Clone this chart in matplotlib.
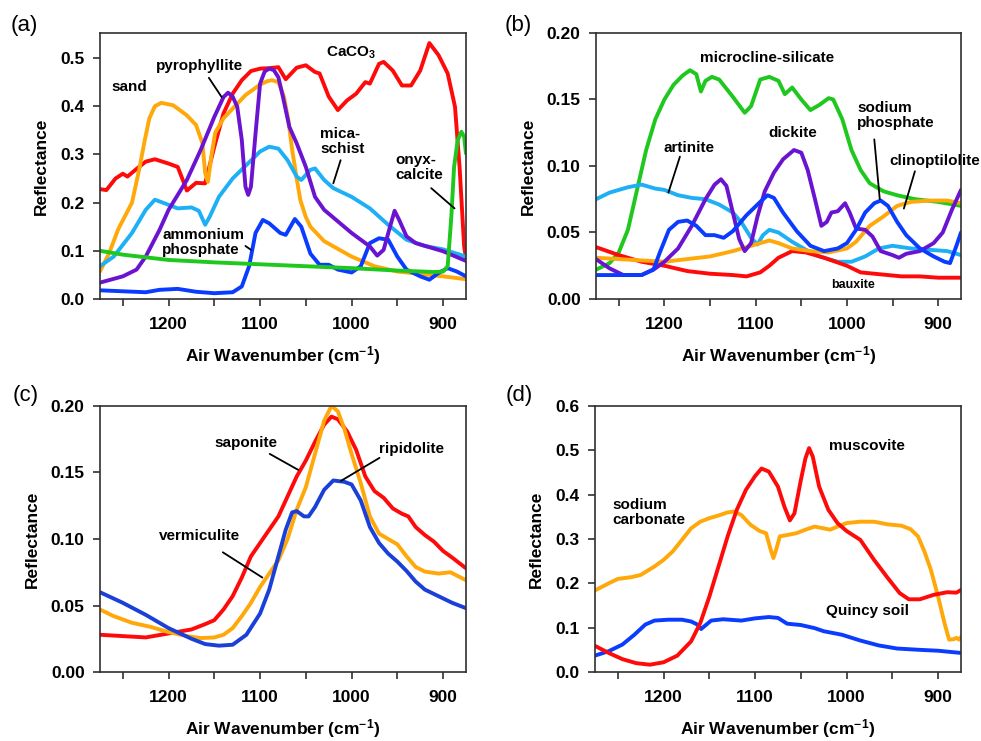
import matplotlib
matplotlib.use("Agg")
import matplotlib.pyplot as plt
import numpy as np

plt.rcParams['font.family'] = ['Liberation Sans', 'DejaVu Sans']
plt.rcParams['font.weight'] = 'bold'
plt.rcParams['mathtext.fontset'] = 'custom'
plt.rcParams['mathtext.rm'] = 'Liberation Sans:bold'
plt.rcParams['mathtext.bf'] = 'Liberation Sans:bold'
plt.rcParams['mathtext.default'] = 'bf'

RED = '#ff0a0a'
ORANGE = '#ffa80a'
PURPLE = '#6a14d2'
LIGHTBLUE = '#1eb0f5'
BLUE = '#0a3cff'
GREEN = '#1ec81e'
DARKBLUE = '#1a40d8'

# ---------------- panel (a) ----------------
caco3_wn = [1275, 1268, 1258, 1250, 1245, 1235, 1225, 1215, 1200, 1190, 1180, 1170, 1160, 1150,
            1140, 1130, 1120, 1110, 1100, 1090, 1080, 1072, 1060, 1050, 1040, 1035, 1025, 1015,
            1005, 995, 985, 980, 970, 965, 955, 945, 935, 925, 915, 905, 895, 887, 882, 877, 875]
caco3_r = [0.228, 0.226, 0.25, 0.26, 0.254, 0.27, 0.285, 0.29, 0.281, 0.274, 0.225, 0.241,
           0.24, 0.316, 0.385, 0.426, 0.454, 0.473, 0.478, 0.479, 0.481, 0.456, 0.48, 0.485,
           0.471, 0.468, 0.42, 0.392, 0.412, 0.426, 0.45, 0.447, 0.488, 0.492, 0.474, 0.443,
           0.443, 0.474, 0.531, 0.506, 0.468, 0.399, 0.274, 0.109, 0.085]

sand_wn = [1275, 1265, 1255, 1240, 1232, 1226, 1221, 1215, 1208, 1195, 1180, 1170, 1163, 1160,
           1157, 1153, 1149, 1140, 1130, 1116, 1100, 1092, 1087, 1080, 1074, 1069, 1065, 1060,
           1056, 1050, 1045, 1030, 1000, 975, 950, 900, 875]
sand_r = [0.057, 0.095, 0.145, 0.2, 0.27, 0.33, 0.375, 0.4, 0.407, 0.402, 0.381, 0.361, 0.323,
          0.261, 0.243, 0.3, 0.345, 0.375, 0.395, 0.423, 0.445, 0.452, 0.454, 0.45, 0.42, 0.37,
          0.31, 0.25, 0.205, 0.17, 0.15, 0.12, 0.088, 0.068, 0.057, 0.047, 0.041]

pyro_wn = [1275, 1250, 1235, 1225, 1210, 1200, 1180, 1165, 1150, 1140, 1135, 1130, 1125, 1120,
           1116, 1113, 1110, 1105, 1100, 1095, 1090, 1085, 1080, 1075, 1068, 1060, 1050, 1040,
           1030, 1000, 980, 972, 965, 958, 953, 948, 940, 930, 900, 875]
pyro_r = [0.034, 0.047, 0.061, 0.088, 0.143, 0.185, 0.247, 0.309, 0.378, 0.419, 0.428, 0.42,
          0.399, 0.33, 0.233, 0.216, 0.233, 0.343, 0.447, 0.472, 0.478, 0.475, 0.46, 0.419,
          0.357, 0.323, 0.274, 0.212, 0.185, 0.137, 0.109, 0.09, 0.102, 0.15, 0.183, 0.164,
          0.13, 0.116, 0.099, 0.079]

mica_wn = [1275, 1260, 1240, 1225, 1215, 1205, 1190, 1175, 1167, 1160, 1155, 1145, 1130, 1115,
           1100, 1090, 1080, 1070, 1060, 1055, 1045, 1040, 1030, 1020, 1000, 980, 960, 940,
           920, 900, 875]
mica_r = [0.068, 0.088, 0.137, 0.185, 0.206, 0.199, 0.188, 0.19, 0.183, 0.154, 0.171, 0.212,
          0.25, 0.278, 0.306, 0.316, 0.312, 0.288, 0.254, 0.247, 0.268, 0.271, 0.247, 0.23,
          0.212, 0.188, 0.154, 0.123, 0.11, 0.103, 0.088]

ammph_wn = [1275, 1250, 1225, 1210, 1190, 1170, 1150, 1130, 1120, 1112, 1105, 1097, 1090, 1078,
            1072, 1062, 1055, 1045, 1035, 1025, 1015, 1000, 990, 980, 970, 960, 950, 940, 925,
            915, 905, 895, 885, 875]
ammph_r = [0.018, 0.016, 0.014, 0.019, 0.021, 0.015, 0.012, 0.014, 0.026, 0.068, 0.137, 0.164,
           0.157, 0.137, 0.133, 0.166, 0.15, 0.094, 0.071, 0.071, 0.061, 0.055, 0.068, 0.116,
           0.126, 0.123, 0.088, 0.061, 0.047, 0.04, 0.054, 0.064, 0.057, 0.047]

onyx_wn = [1275, 1250, 1200, 1150, 1100, 1050, 1000, 950, 910, 900, 895, 891, 888, 884, 880,
           877, 875]
onyx_r = [0.1, 0.092, 0.081, 0.076, 0.072, 0.068, 0.064, 0.059, 0.056, 0.057, 0.068, 0.171,
          0.274, 0.33, 0.347, 0.337, 0.302]

# ---------------- panel (b) ----------------
micro_wn = [1275, 1260, 1250, 1240, 1230, 1220, 1210, 1200, 1190, 1180, 1172, 1165, 1160, 1155,
            1148, 1140, 1125, 1112, 1105, 1095, 1085, 1075, 1068, 1060, 1050, 1040, 1030, 1020,
            1015, 1005, 995, 985, 975, 960, 945, 925, 900, 875]
micro_r = [0.022, 0.027, 0.035, 0.052, 0.082, 0.112, 0.135, 0.15, 0.161, 0.168, 0.172, 0.169,
           0.156, 0.164, 0.167, 0.165, 0.152, 0.14, 0.145, 0.165, 0.167, 0.164, 0.154, 0.159,
           0.15, 0.142, 0.146, 0.151, 0.15, 0.135, 0.112, 0.097, 0.087, 0.081, 0.078, 0.075,
           0.073, 0.07]

artin_wn = [1275, 1260, 1240, 1225, 1210, 1200, 1185, 1170, 1155, 1140, 1125, 1115, 1105, 1098,
            1092, 1085, 1075, 1060, 1045, 1030, 1010, 995, 980, 965, 950, 930, 910, 890, 875]
artin_r = [0.075, 0.08, 0.084, 0.086, 0.083, 0.082, 0.078, 0.076, 0.075, 0.071, 0.065, 0.057,
           0.046, 0.041, 0.048, 0.052, 0.05, 0.043, 0.037, 0.032, 0.028, 0.028, 0.032, 0.038,
           0.04, 0.038, 0.037, 0.036, 0.033]

dick_wn = [1275, 1260, 1245, 1225, 1210, 1200, 1185, 1170, 1155, 1145, 1138, 1132, 1125, 1118,
           1112, 1105, 1098, 1090, 1080, 1070, 1058, 1050, 1043, 1035, 1028, 1022, 1017, 1010,
           1002, 997, 990, 980, 972, 963, 950, 943, 935, 920, 905, 895, 885, 875]
dick_r = [0.03, 0.023, 0.018, 0.018, 0.023, 0.028, 0.038, 0.055, 0.075, 0.086, 0.09, 0.085,
          0.065, 0.045, 0.036, 0.042, 0.062, 0.081, 0.095, 0.105, 0.112, 0.11, 0.097, 0.075,
          0.055, 0.058, 0.065, 0.066, 0.072, 0.065, 0.053, 0.052, 0.047, 0.036, 0.033, 0.031,
          0.034, 0.036, 0.042, 0.05, 0.067, 0.082]

sodph_wn = [1275, 1250, 1225, 1212, 1205, 1195, 1185, 1175, 1165, 1155, 1145, 1135, 1125, 1110,
            1095, 1087, 1080, 1070, 1055, 1040, 1025, 1010, 1000, 990, 980, 970, 963, 955, 945,
            935, 920, 905, 893, 887, 880, 875]
sodph_r = [0.018, 0.018, 0.018, 0.022, 0.035, 0.052, 0.058, 0.059, 0.055, 0.048, 0.048, 0.046,
           0.051, 0.063, 0.073, 0.078, 0.076, 0.065, 0.051, 0.04, 0.036, 0.038, 0.042, 0.052,
           0.065, 0.072, 0.074, 0.07, 0.058, 0.048, 0.038, 0.032, 0.028, 0.027, 0.04, 0.05]

clino_wn = [1275, 1250, 1225, 1200, 1175, 1150, 1125, 1100, 1085, 1075, 1060, 1040, 1020, 1000,
            990, 975, 960, 945, 930, 910, 890, 875]
clino_r = [0.031, 0.03, 0.029, 0.028, 0.03, 0.032, 0.036, 0.041, 0.044, 0.042, 0.038, 0.036,
           0.035, 0.038, 0.043, 0.055, 0.062, 0.07, 0.073, 0.074, 0.074, 0.072]

baux_wn = [1275, 1250, 1225, 1200, 1175, 1150, 1125, 1110, 1095, 1085, 1075, 1060, 1045, 1025,
           1000, 985, 970, 955, 940, 920, 900, 885, 875]
baux_r = [0.039, 0.033, 0.028, 0.025, 0.021, 0.019, 0.018, 0.017, 0.02, 0.025, 0.031, 0.036,
          0.035, 0.031, 0.025, 0.02, 0.019, 0.018, 0.017, 0.017, 0.016, 0.016, 0.016]

# ---------------- panel (c) ----------------
sapon_wn = [1275, 1250, 1225, 1200, 1175, 1160, 1150, 1140, 1130, 1120, 1110, 1100, 1090, 1080,
            1070, 1060, 1050, 1040, 1030, 1022, 1015, 1005, 995, 985, 975, 965, 955, 945, 938,
            930, 920, 910, 900, 890, 875]
sapon_r = [0.028, 0.027, 0.026, 0.029, 0.032, 0.036, 0.039, 0.047, 0.057, 0.071, 0.087, 0.097,
           0.107, 0.117, 0.132, 0.147, 0.159, 0.173, 0.186, 0.192, 0.19, 0.181, 0.167, 0.147,
           0.136, 0.131, 0.123, 0.119, 0.117, 0.109, 0.103, 0.098, 0.091, 0.086, 0.078]

vermi_wn = [1275, 1260, 1240, 1220, 1200, 1180, 1165, 1150, 1140, 1130, 1120, 1110, 1100, 1090,
            1080, 1070, 1060, 1050, 1040, 1030, 1022, 1015, 1008, 1000, 990, 980, 970, 960,
            950, 940, 930, 920, 905, 892, 875]
vermi_r = [0.047, 0.042, 0.037, 0.034, 0.03, 0.027, 0.0255, 0.026, 0.028, 0.033, 0.042, 0.052,
           0.064, 0.074, 0.084, 0.1, 0.122, 0.139, 0.164, 0.189, 0.2, 0.196, 0.183, 0.164,
           0.142, 0.117, 0.104, 0.1, 0.096, 0.087, 0.079, 0.0755, 0.074, 0.075, 0.069]

ripid_wn = [1275, 1250, 1225, 1200, 1175, 1160, 1145, 1130, 1115, 1100, 1090, 1080, 1072, 1065,
            1060, 1052, 1047, 1040, 1030, 1020, 1008, 1000, 990, 980, 970, 960, 950, 940, 930,
            920, 905, 890, 875]
ripid_r = [0.06, 0.052, 0.043, 0.033, 0.025, 0.021, 0.0198, 0.0205, 0.028, 0.044, 0.062, 0.087,
           0.107, 0.12, 0.121, 0.117, 0.117, 0.124, 0.137, 0.144, 0.143, 0.141, 0.129, 0.109,
           0.097, 0.089, 0.083, 0.076, 0.068, 0.062, 0.057, 0.052, 0.048]

# ---------------- panel (d) ----------------
musc_wn = [1275, 1260, 1245, 1230, 1215, 1200, 1185, 1170, 1160, 1150, 1140, 1130, 1120, 1110,
           1100, 1093, 1085, 1075, 1068, 1062, 1057, 1050, 1045, 1041, 1037, 1030, 1020, 1010,
           1000, 985, 970, 955, 942, 932, 920, 905, 890, 880, 875]
musc_r = [0.059, 0.043, 0.029, 0.02, 0.0165, 0.022, 0.037, 0.069, 0.11, 0.17, 0.238, 0.306,
          0.366, 0.411, 0.442, 0.459, 0.452, 0.418, 0.373, 0.342, 0.358, 0.433, 0.482, 0.505,
          0.486, 0.418, 0.366, 0.336, 0.318, 0.298, 0.253, 0.212, 0.178, 0.164, 0.164, 0.174,
          0.18, 0.179, 0.185]

sodcarb_wn = [1275, 1260, 1250, 1235, 1225, 1210, 1200, 1190, 1180, 1170, 1160, 1150, 1140, 1130,
              1123, 1115, 1105, 1095, 1088, 1083, 1080, 1077, 1073, 1065, 1055, 1045, 1035,
              1025, 1018, 1010, 1000, 985, 970, 955, 940, 930, 922, 915, 908, 900, 893, 888,
              883, 880, 877, 875]
sodcarb_r = [0.184, 0.2, 0.21, 0.214, 0.219, 0.238, 0.253, 0.272, 0.298, 0.324, 0.339, 0.347,
             0.353, 0.36, 0.362, 0.354, 0.332, 0.318, 0.313, 0.276, 0.257, 0.276, 0.306, 0.309,
             0.313, 0.321, 0.328, 0.324, 0.321, 0.328, 0.336, 0.339, 0.339, 0.333, 0.33, 0.322,
             0.306, 0.272, 0.231, 0.17, 0.11, 0.073, 0.074, 0.077, 0.073, 0.079]

quincy_wn = [1275, 1260, 1245, 1232, 1220, 1210, 1195, 1180, 1170, 1163, 1159, 1155, 1148, 1135,
             1115, 1100, 1085, 1075, 1065, 1050, 1035, 1025, 1005, 985, 965, 945, 920, 900, 875]
quincy_r = [0.037, 0.047, 0.062, 0.084, 0.107, 0.116, 0.118, 0.118, 0.114, 0.107, 0.097, 0.104,
            0.116, 0.119, 0.116, 0.121, 0.124, 0.122, 0.109, 0.106, 0.099, 0.092, 0.084, 0.071,
            0.06, 0.053, 0.05, 0.048, 0.043]

LW = 2.8
ANN = 11
LINE_KW = dict(lw=LW, solid_joinstyle='round', solid_capstyle='round')


def style_axes(ax, ymax, ystep):
    ax.set_xlim(1275, 875)
    ax.set_ylim(0, ymax)
    ax.set_xticks([1200, 1100, 1000, 900])
    ax.set_xticks([1250, 1150, 1050, 950], minor=True)
    ax.set_yticks(np.arange(0, ymax + 1e-9, ystep))
    ax.tick_params(axis='both', which='both', direction='out', length=5, width=1.2,
                   color='#303030', labelsize=12.5)
    ax.tick_params(axis='x', pad=8)
    ax.tick_params(axis='y', pad=6)
    for sp in ax.spines.values():
        sp.set_color('#303030')
        sp.set_linewidth(1.2)
    ax.set_xlabel(r'Air Wavenumber (cm$^{-1}$)', fontsize=12.5, fontweight='bold', labelpad=9)
    ax.set_ylabel('Reflectance', fontsize=12.5, fontweight='bold', labelpad=8)


def leader(ax, p0, p1):
    ax.annotate('', xy=p1, xytext=p0,
                arrowprops=dict(arrowstyle='-', color='black', lw=1.3, shrinkA=0, shrinkB=0))


fig = plt.figure(figsize=(9.81, 7.41), dpi=100)
ax_a = fig.add_axes([0.1019, 0.5965, 0.3731, 0.359])
ax_b = fig.add_axes([0.6075, 0.5965, 0.3721, 0.359])
ax_c = fig.add_axes([0.1019, 0.0931, 0.3731, 0.359])
ax_d = fig.add_axes([0.6065, 0.0931, 0.3731, 0.359])

# (a)
ax = ax_a
ax.plot(caco3_wn, caco3_r, color=RED, **LINE_KW)
ax.plot(sand_wn, sand_r, color=ORANGE, **LINE_KW)
ax.plot(mica_wn, mica_r, color=LIGHTBLUE, **LINE_KW)
ax.plot(ammph_wn, ammph_r, color=BLUE, **LINE_KW)
ax.plot(pyro_wn, pyro_r, color=PURPLE, **LINE_KW)
ax.plot(onyx_wn, onyx_r, color=GREEN, **LINE_KW)
style_axes(ax, 0.552, 0.1)
ax.set_yticklabels(['0.0', '0.1', '0.2', '0.3', '0.4', '0.5'])
ax.text(1001, 0.51, r'CaCO$_3$', fontsize=ANN, ha='center', va='center')
ax.text(1166, 0.483, 'pyrophyllite', fontsize=ANN, ha='center', va='center')
leader(ax, (1156, 0.459), (1142, 0.419))
ax.text(1243, 0.44, 'sand', fontsize=ANN, ha='center', va='center')
ax.text(1034, 0.326, 'mica-\nschist', fontsize=ANN, ha='left', va='center', linespacing=1.1)
leader(ax, (1012, 0.288), (1020, 0.24))
ax.text(952, 0.273, 'onyx-\ncalcite', fontsize=ANN, ha='left', va='center', linespacing=1.1)
leader(ax, (913, 0.23), (887.5, 0.188))
ax.text(1207, 0.117, 'ammonium\nphosphate', fontsize=ANN, ha='left', va='center', linespacing=1.1)
leader(ax, (1116, 0.11), (1110, 0.102))

# (b)
ax = ax_b
ax.plot(micro_wn, micro_r, color=GREEN, **LINE_KW)
ax.plot(artin_wn, artin_r, color=LIGHTBLUE, **LINE_KW)
ax.plot(baux_wn, baux_r, color=RED, **LINE_KW)
ax.plot(clino_wn, clino_r, color=ORANGE, **LINE_KW)
ax.plot(dick_wn, dick_r, color=PURPLE, **LINE_KW)
ax.plot(sodph_wn, sodph_r, color=BLUE, **LINE_KW)
style_axes(ax, 0.2, 0.05)
ax.set_yticklabels(['0.00', '0.05', '0.10', '0.15', '0.20'])
ax.text(1088, 0.181, 'microcline-silicate', fontsize=ANN, ha='center', va='center')
ax.text(1173, 0.1135, 'artinite', fontsize=ANN, ha='center', va='center')
leader(ax, (1183, 0.107), (1195.6, 0.080))
ax.text(1059, 0.125, 'dickite', fontsize=ANN, ha='center', va='center')
ax.text(989, 0.138, 'sodium\nphosphate', fontsize=ANN, ha='left', va='center', linespacing=1.1)
leader(ax, (970, 0.12), (964, 0.075))
ax.text(904, 0.1035, 'clinoptilolite', fontsize=ANN, ha='center', va='center')
leader(ax, (925.5, 0.096), (937.6, 0.068))
ax.text(993, 0.0103, 'bauxite', fontsize=9, ha='center', va='center')

# (c)
ax = ax_c
ax.plot(sapon_wn, sapon_r, color=RED, **LINE_KW)
ax.plot(vermi_wn, vermi_r, color=ORANGE, **LINE_KW)
ax.plot(ripid_wn, ripid_r, color=DARKBLUE, **LINE_KW)
style_axes(ax, 0.2, 0.05)
ax.set_yticklabels(['0.00', '0.05', '0.10', '0.15', '0.20'])
ax.text(1116, 0.172, 'saponite', fontsize=ANN, ha='center', va='center')
leader(ax, (1089.5, 0.164), (1058.4, 0.152))
ax.text(934, 0.1675, 'ripidolite', fontsize=ANN, ha='center', va='center')
leader(ax, (969.5, 0.161), (1011.6, 0.1437))
ax.text(1166, 0.102, 'vermiculite', fontsize=ANN, ha='center', va='center')
leader(ax, (1140.7, 0.09), (1097.5, 0.071))

# (d)
ax = ax_d
ax.plot(sodcarb_wn, sodcarb_r, color=ORANGE, **LINE_KW)
ax.plot(quincy_wn, quincy_r, color=BLUE, **LINE_KW)
ax.plot(musc_wn, musc_r, color=RED, **LINE_KW)
style_axes(ax, 0.6, 0.1)
ax.set_yticklabels(['0.0', '0.1', '0.2', '0.3', '0.4', '0.5', '0.6'])
ax.text(978, 0.51, 'muscovite', fontsize=ANN, ha='center', va='center')
ax.text(1256, 0.36, 'sodium\ncarbonate', fontsize=ANN, ha='left', va='center', linespacing=1.1)
ax.text(977, 0.137, 'Quincy soil', fontsize=ANN, ha='center', va='center')

for lbl, x, y in [('(a)', 24, 25), ('(b)', 518, 25), ('(c)', 26, 395), ('(d)', 519, 395)]:
    fig.text(x / 981, 1 - y / 741, lbl, fontsize=16, fontweight='normal', ha='center', va='center')

fig.savefig('out.png', dpi=100)
